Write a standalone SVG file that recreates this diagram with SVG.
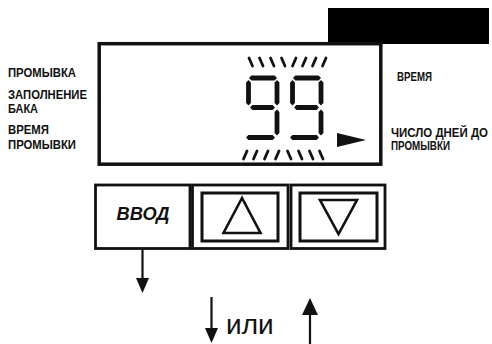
<svg xmlns="http://www.w3.org/2000/svg" xmlns:xlink="http://www.w3.org/1999/xlink" width="492" height="344" viewBox="0 0 492 344">
<style>
.lbl{font-family:"Liberation Sans",Arial,sans-serif;font-weight:bold;font-size:12px;fill:#111}
.btn{fill:#fff;stroke:#111;stroke-width:2.8}
.inner{fill:none;stroke:#111;stroke-width:3}
.tri{fill:none;stroke:#111;stroke-width:2.6;stroke-linejoin:miter}
.seg{fill:#111}
.hatch{stroke:#111;stroke-width:2.8;stroke-linecap:round}
.ln{stroke:#111;stroke-width:2.2;fill:none}
.head{fill:#111}
</style>
<defs>
<g id="digit9">
<polygon class="seg" points="249,78 251.4,75.6 274.6,75.6 277,78 274.6,80.4 251.4,80.4"/>
<polygon class="seg" points="248.5,80 250.9,82.4 250.9,103.1 248.5,105.5 246.1,103.1 246.1,82.4"/>
<polygon class="seg" points="277,80 279.4,82.4 279.4,103.1 277,105.5 274.6,103.1 274.6,82.4"/>
<polygon class="seg" points="250,107.5 252.4,105.1 272.6,105.1 275,107.5 272.6,109.9 252.4,109.9"/>
<polygon class="seg" points="277,109.5 279.4,111.9 279.4,133.1 277,135.5 274.6,133.1 274.6,111.9"/>
<polygon class="seg" points="246,137.5 248.4,135.1 272.6,135.1 275,137.5 272.6,139.9 248.4,139.9"/>
</g>
</defs>
<rect id="black-bar" x="328" y="8" width="161" height="36" fill="#000"/>
<g id="display">
<rect x="99.2" y="43.7" width="281.6" height="120.5" fill="#fff" stroke="#111" stroke-width="3.5"/>
<use xlink:href="#digit9"/>
<use xlink:href="#digit9" x="44"/>
<g id="hatch-top">
<line class="hatch" x1="249" y1="58" x2="252.5" y2="66"/>
<line class="hatch" x1="259.5" y1="58" x2="263" y2="66"/>
<line class="hatch" x1="270.5" y1="58" x2="274" y2="66"/>
<line class="hatch" x1="281.5" y1="58" x2="285" y2="66"/>
<line class="hatch" x1="296" y1="58" x2="292.5" y2="66"/>
<line class="hatch" x1="306" y1="58" x2="302.5" y2="66"/>
<line class="hatch" x1="316" y1="58" x2="312.5" y2="66"/>
<line class="hatch" x1="326" y1="58" x2="322.5" y2="66"/>
</g>
<g id="hatch-bottom">
<line class="hatch" x1="247" y1="151" x2="243.5" y2="159"/>
<line class="hatch" x1="257" y1="151" x2="253.5" y2="159"/>
<line class="hatch" x1="268" y1="151" x2="264.5" y2="159"/>
<line class="hatch" x1="279" y1="151" x2="275.5" y2="159"/>
<line class="hatch" x1="287.5" y1="151" x2="291" y2="159"/>
<line class="hatch" x1="298.5" y1="151" x2="302" y2="159"/>
<line class="hatch" x1="309.5" y1="151" x2="313" y2="159"/>
<line class="hatch" x1="319.5" y1="151" x2="323" y2="159"/>
</g>
<polygon class="head" points="337,133 366,140 337,147"/>
</g>
<g id="labels-left">
<text class="lbl" x="8" y="77" textLength="68" lengthAdjust="spacingAndGlyphs">ПРОМЫВКА</text>
<text class="lbl" x="8" y="99" textLength="79" lengthAdjust="spacingAndGlyphs">ЗАПОЛНЕНИЕ</text>
<text class="lbl" x="8" y="113" textLength="30" lengthAdjust="spacingAndGlyphs">БАКА</text>
<text class="lbl" x="8" y="134" textLength="41" lengthAdjust="spacingAndGlyphs">ВРЕМЯ</text>
<text class="lbl" x="8" y="149" textLength="68" lengthAdjust="spacingAndGlyphs">ПРОМЫВКИ</text>
</g>
<g id="labels-right">
<text class="lbl" x="397" y="81" textLength="35" lengthAdjust="spacingAndGlyphs">ВРЕМЯ</text>
<text class="lbl" x="391" y="137" textLength="97" lengthAdjust="spacingAndGlyphs">ЧИСЛО ДНЕЙ ДО</text>
<text class="lbl" x="391" y="150" textLength="59" lengthAdjust="spacingAndGlyphs">ПРОМЫВКИ</text>
</g>
<g id="btn-enter">
<rect class="btn" x="95.5" y="185" width="94.5" height="63.5"/>
<text x="143" y="220" text-anchor="middle" font-family="'Liberation Sans',Arial,sans-serif" font-weight="bold" font-style="italic" font-size="19" textLength="53" lengthAdjust="spacingAndGlyphs" fill="#111">ВВОД</text>
</g>
<g id="btn-up">
<rect class="btn" x="192.5" y="185" width="95.5" height="63.5"/>
<rect class="inner" x="202" y="193" width="76" height="48"/>
<polygon class="tri" points="242,198 223.5,233 260.5,233"/>
</g>
<g id="btn-down">
<rect class="btn" x="291" y="185" width="94" height="63.5"/>
<rect class="inner" x="300" y="193" width="77" height="48"/>
<polygon class="tri" points="320,200 357,200 338.5,234"/>
</g>
<g id="connectors">
<line class="ln" x1="142.5" y1="249" x2="142.5" y2="281"/>
<polygon class="head" points="136,278 149,278 142.5,293"/>
<line class="ln" x1="211.5" y1="297" x2="211.5" y2="331"/>
<polygon class="head" points="205,328 218,328 211.5,343"/>
<line class="ln" x1="310" y1="312" x2="310" y2="344"/>
<polygon class="head" points="302,315 318,315 310,298"/>
</g>
<text x="226" y="334" font-family="'Liberation Sans',Arial,sans-serif" font-size="28" fill="#111">или</text>
</svg>
